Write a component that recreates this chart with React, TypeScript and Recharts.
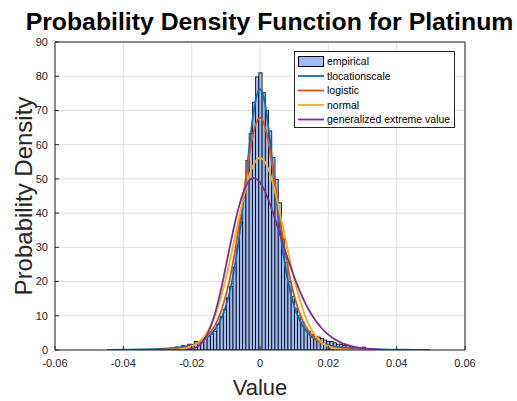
import React from 'react';
import { ComposedChart, Bar, Line, XAxis, YAxis, CartesianGrid } from 'recharts';

// ---------- data ----------
const histStart = -0.0448;
const histBinWidth = 0.000946;
const histDensity = [
  0, 0, 0, 0, 0, 0, 0, 0, 0, 0,
  0, 0, 0, 0, 0, 0, 0, 0, 0, 0,
  0.42, 0.85, 0.42, 1.27, 0.85, 1.7, 1.3, 2.5, 2.5, 3.0,
  3.8, 4.2, 4.7, 5.5, 7.6, 9.7, 11.8, 15.2, 18.6, 24.2,
  30.4, 37.2, 45.6, 55.4, 63.2, 72.4, 79.8, 81.0, 75.2, 70.0,
  64.0, 56.2, 49.8, 43.0, 32.5, 25.5, 20.0, 15.6, 12.2, 10.0,
  8.0, 6.4, 5.5, 4.6, 4.0, 3.8, 3.4, 2.9, 2.5, 2.5,
  2.1, 1.7, 1.7, 1.3, 1.3, 0.85, 0.85, 0.42, 0.42, 0.85,
  0, 0, 0, 0, 0, 0, 0, 0, 0, 0,
  0, 0, 0, 0, 0, 0, 0, 0, 0, 0,
];

const curveX = [
  -0.0448, -0.04, -0.035, -0.03, -0.028, -0.026,
  -0.025, -0.024, -0.023, -0.022, -0.021, -0.02, -0.019, -0.018, -0.017, -0.016,
  -0.015, -0.014, -0.013, -0.012, -0.011, -0.01, -0.009, -0.008, -0.007, -0.006,
  -0.005, -0.004, -0.003, -0.002, -0.001, 0, 0.001, 0.002, 0.003, 0.004,
  0.005, 0.006, 0.007, 0.008, 0.009, 0.01, 0.011, 0.012, 0.013, 0.014,
  0.015, 0.016, 0.017, 0.018, 0.019, 0.02, 0.021, 0.022, 0.023, 0.024,
  0.025, 0.026, 0.027, 0.028, 0.029, 0.03,
  0.032, 0.035, 0.04, 0.045, 0.0498,
];

const tlocValues = [
  0.05, 0.09, 0.16, 0.30, 0.39, 0.53,
  0.62, 0.73, 0.86, 1.02, 1.22, 1.46, 1.76, 2.15, 2.63, 3.24,
  4.02, 5.01, 6.30, 7.97, 10.1, 12.9, 16.5, 21.1, 26.9, 34.0,
  42.2, 51.3, 60.5, 68.6, 74.2, 76.2, 74.2, 68.6, 60.5, 51.3,
  42.2, 34.0, 26.9, 21.1, 16.5, 12.9, 10.1, 7.97, 6.30, 5.01,
  4.02, 3.24, 2.63, 2.15, 1.76, 1.46, 1.22, 1.02, 0.86, 0.73,
  0.62, 0.53, 0.45, 0.39, 0.34, 0.30,
  0.23, 0.16, 0.09, 0.05, 0.03,
];

const logisticValues = [
  0, 0.01, 0.02, 0.08, 0.14, 0.24,
  0.31, 0.41, 0.53, 0.70, 0.92, 1.19, 1.56, 2.03, 2.65, 3.46,
  4.50, 5.84, 7.55, 9.73, 12.5, 15.9, 20.0, 25.0, 30.8, 37.2,
  44.2, 51.2, 57.7, 63.1, 66.6, 67.8, 66.6, 63.1, 57.7, 51.2,
  44.2, 37.2, 30.8, 25.0, 20.0, 15.9, 12.5, 9.73, 7.55, 5.84,
  4.50, 3.46, 2.65, 2.03, 1.56, 1.19, 0.92, 0.70, 0.53, 0.41,
  0.31, 0.24, 0.18, 0.14, 0.105, 0.08,
  0.05, 0.02, 0.01, 0, 0,
];

const normalValues = [
  0, 0, 0, 0.01, 0.02, 0.07,
  0.12, 0.19, 0.30, 0.47, 0.72, 1.07, 1.58, 2.28, 3.22, 4.46,
  6.06, 8.07, 10.54, 13.5, 16.95, 20.85, 25.17, 29.78, 34.55, 39.2,
  43.79, 47.89, 51.32, 53.92, 55.55, 56.1, 55.55, 53.92, 51.32, 47.89,
  43.79, 39.2, 34.55, 29.78, 25.17, 20.85, 16.95, 13.5, 10.54, 8.07,
  6.06, 4.46, 3.22, 2.28, 1.58, 1.07, 0.72, 0.47, 0.30, 0.19,
  0.12, 0.07, 0.04, 0.02, 0.01, 0.01,
  0, 0, 0, 0, 0,
];

const gevValues = [
  0, 0, 0, 0, 0, 0,
  0, 0.01, 0.02, 0.06, 0.15, 0.32, 0.65, 1.21, 2.12, 3.5,
  5.45, 8.04, 11.27, 15.16, 19.59, 24.37, 29.27, 34.1, 38.58, 42.52,
  45.73, 48.11, 49.61, 50.2, 49.96, 48.94, 47.28, 45.08, 42.45, 39.55,
  36.47, 33.32, 30.17, 27.1, 24.16, 21.38, 18.79, 16.41, 14.24, 12.28,
  10.53, 8.99, 7.62, 6.43, 5.39, 4.49, 3.72, 3.07, 2.51, 2.05,
  1.66, 1.33, 1.06, 0.84, 0.66, 0.51,
  0.30, 0.13, 0.02, 0, 0,
];

const xTicks = [-0.06, -0.04, -0.02, 0, 0.02, 0.04, 0.06];
const yTicks = [0, 10, 20, 30, 40, 50, 60, 70, 80, 90];
const seriesNames = ['empirical', 'tlocationscale', 'logistic', 'normal', 'generalized extreme value'];
const seriesColors = ['#a0baf2', '#0072BD', '#D95319', '#EDB120', '#7E2F8E'];
const titleText = 'Probability Density Function for Platinum';
const xLabelText = 'Value';
const yLabelText = 'Probability Density';

// ---------- derived tables ----------
const histData = histDensity.map((d, i) => ({ x: histStart + (i + 0.5) * histBinWidth, density: d }));
const curveData = (vals: number[]) => curveX.map((x, i) => ({ x, y: vals[i] }));
const curves = [tlocValues, logisticValues, normalValues, gevValues].map(curveData);

// ---------- layout ----------
const W = 517;
const H = 401;
const PLOT_L = 55;
const PLOT_R = 465;
const PLOT_T = 42;
const PLOT_B = 350;
const FONT = "'Liberation Sans', Arial, Helvetica, sans-serif";
const AXIS = '#262626';
const X_DOMAIN: [number, number] = [xTicks[0], xTicks[xTicks.length - 1]];
const Y_DOMAIN: [number, number] = [yTicks[0], yTicks[yTicks.length - 1]];

const fmtX = (v: number) => (v === 0 ? '0' : v.toFixed(2));

const barPx = (histBinWidth / (X_DOMAIN[1] - X_DOMAIN[0])) * (PLOT_R - PLOT_L);

const HistBar = (props: any) => {
  const { x, y, width, height } = props;
  if (!height || height <= 0) return null;
  const cx = x + width / 2;
  return (
    <rect
      x={cx - barPx / 2}
      y={y}
      width={barPx}
      height={height}
      fill={seriesColors[0]}
      stroke="#000"
      strokeWidth={0.8}
    />
  );
};

export default function App() {
  const legendRows = [61.5, 76, 90.5, 105, 119.5];
  return (
    <div style={{ position: 'absolute', left: 0, top: 0, width: W, height: H, background: '#fff' }}>
      <ComposedChart
        width={W}
        height={H}
        data={histData}
        margin={{ top: PLOT_T - 10, right: W - PLOT_R - 10, bottom: H - PLOT_B - 30, left: 0 }}
      >
        <CartesianGrid stroke="#e0e0e0" strokeWidth={1} horizontalValues={yTicks} verticalValues={xTicks} />
        <XAxis
          dataKey="x"
          type="number"
          domain={X_DOMAIN}
          ticks={xTicks}
          allowDataOverflow
          height={30}
          stroke={AXIS}
          tickSize={-4}
          tickMargin={13}
          tickFormatter={fmtX}
          tick={{ fill: AXIS, fontSize: 11, fontFamily: FONT }}
          interval={0}
        />
        <XAxis
          xAxisId="top"
          orientation="top"
          dataKey="x"
          type="number"
          domain={X_DOMAIN}
          ticks={xTicks}
          allowDataOverflow
          height={10}
          stroke={AXIS}
          tickSize={-4}
          tick={false}
          interval={0}
        />
        <YAxis
          type="number"
          domain={Y_DOMAIN}
          ticks={yTicks}
          allowDataOverflow
          width={PLOT_L}
          stroke={AXIS}
          tickSize={-4}
          tickMargin={11}
          tick={{ fill: AXIS, fontSize: 11, fontFamily: FONT }}
          interval={0}
        />
        <YAxis
          yAxisId="right"
          orientation="right"
          type="number"
          domain={Y_DOMAIN}
          ticks={yTicks}
          allowDataOverflow
          width={10}
          stroke={AXIS}
          tickSize={-4}
          tick={false}
          interval={0}
        />
        <Bar
          dataKey="density"
          fill={seriesColors[0]}
          shape={HistBar}
          isAnimationActive={false}
        />
        {curves.map((d, i) => (
          <Line
            key={seriesNames[i + 1]}
            data={d}
            dataKey="y"
            type="monotone"
            stroke={seriesColors[i + 1]}
            strokeWidth={1.8}
            dot={false}
            activeDot={false}
            isAnimationActive={false}
          />
        ))}
      </ComposedChart>
      <svg
        width={W}
        height={H}
        style={{ position: 'absolute', left: 0, top: 0, pointerEvents: 'none' }}
        fontFamily={FONT}
      >
        <text x={269.5} y={30} textAnchor="middle" fontSize={24.8} fontWeight="bold" fill="#000">
          {titleText}
        </text>
        <text x={(PLOT_L + PLOT_R) / 2} y={395} textAnchor="middle" fontSize={22} fill={AXIS}>
          {xLabelText}
        </text>
        <text
          x={0}
          y={0}
          transform={`translate(32, ${(PLOT_T + PLOT_B) / 2}) rotate(-90)`}
          textAnchor="middle"
          fontSize={24}
          fill={AXIS}
        >
          {yLabelText}
        </text>
        <rect x={294.5} y={51.5} width={160} height={76} fill="#fff" stroke={AXIS} strokeWidth={1} />
        {seriesNames.map((name, i) => (
          <g key={name}>
            {i === 0 ? (
              <rect x={298.5} y={legendRows[i] - 5} width={25} height={10} fill={seriesColors[0]} stroke="#000" strokeWidth={1} />
            ) : (
              <line x1={298} x2={324} y1={legendRows[i]} y2={legendRows[i]} stroke={seriesColors[i]} strokeWidth={1.8} />
            )}
            <text x={327} y={legendRows[i] + 3.8} fontSize={10.5} fill="#000">
              {name}
            </text>
          </g>
        ))}
      </svg>
    </div>
  );
}
